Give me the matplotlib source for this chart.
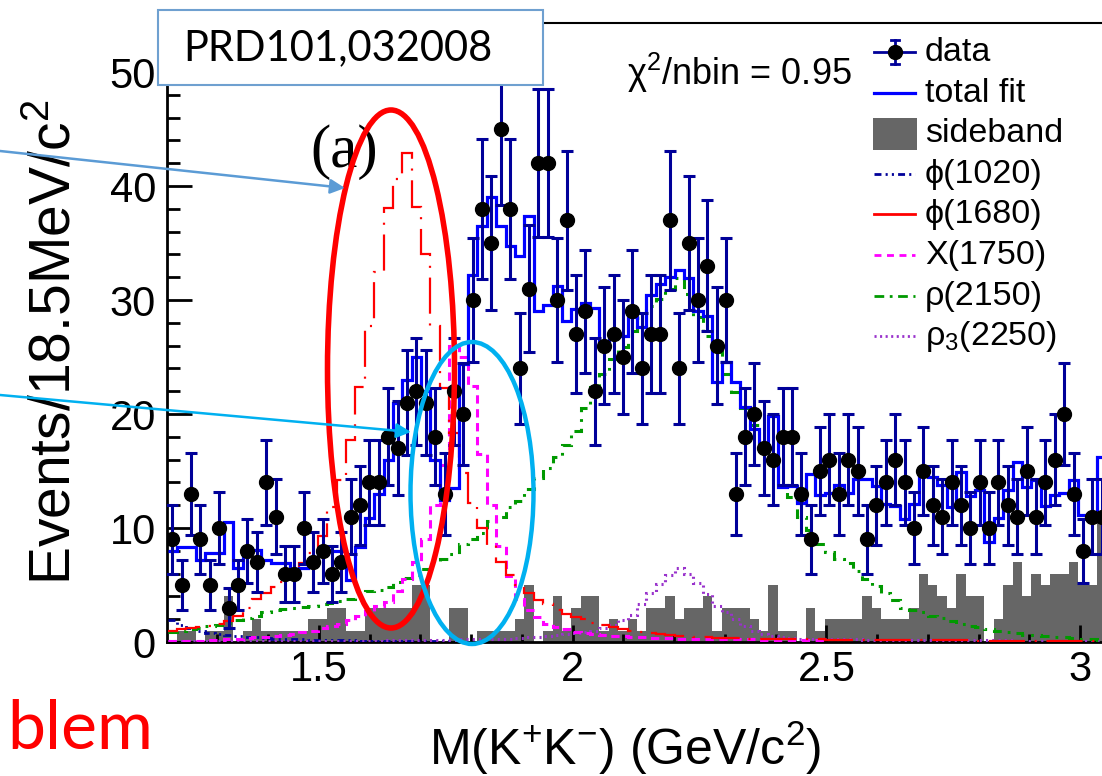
import numpy as np
import matplotlib
matplotlib.use('Agg')
import matplotlib.pyplot as plt
from matplotlib import patches, transforms as mtransforms
from matplotlib.lines import Line2D
from matplotlib.ticker import MultipleLocator, FormatStrFormatter

plt.rcParams['font.family'] = ['Liberation Sans', 'DejaVu Sans']
plt.rcParams['mathtext.fontset'] = 'custom'
plt.rcParams['mathtext.rm'] = 'Liberation Sans'
plt.rcParams['mathtext.it'] = 'Liberation Sans'
plt.rcParams['mathtext.default'] = 'regular'
plt.rcParams['lines.scale_dashes'] = False

# ---------------- data (bins of 18.5 MeV) ----------------
bin_low = 1.2017
bin_width = 0.0185

data_counts = [9, 5, 13, 9, 5, 10, 3, 5, 8, 7,
               14, 11, 6, 6, 10, 7, 8, 6, 7, 11,
               12, 14, 14, 18, 17, 21, 22, 21, 18, 13,
               22, 20, 30, 38, 35, 45, 38, 24, 31, 42,
               42, 30, 37, 27, 29, 22, 26, 27, 25, 29,
               24, 27, 27, 37, 24, 35, 30, 33, 26, 30,
               13, 18, 20, 17, 16, 18, 18, 13, 9, 15,
               16, 13, 16, 15, 9, 12, 14, 16, 14, 10,
               15, 12, 11, 14, 12, 10, 14, 10, 14, 12,
               11, 15, 11, 14, 16, 20, 13, 8, 11, 11]

total_fit = [8.0, 8.3, 8.3, 7.2, 7.8, 7.8, 10.5, 6.5, 8.0, 8.1,
             7.2, 6.9, 6.9, 6.2, 6.5, 7.1, 7.7, 8.0, 8.0, 5.4,
             8.3, 10.9, 13.0, 16.0, 21.0, 23.0, 25.0, 22.0, 16.0, 12.5,
             13.5, 24.4, 32.2, 36.5, 39.0, 36.5, 34.7, 33.9, 37.4, 29.0,
             29.6, 31.2, 28.2, 29.2, 29.7, 29.3, 26.3, 27.2, 26.8, 28.5,
             27.6, 30.4, 31.4, 32.0, 32.6, 31.9, 29.0, 28.6, 22.8, 24.6,
             22.8, 20.6, 18.7, 17.1, 19.8, 13.6, 13.7, 12.2, 14.7, 12.9,
             13.1, 13.8, 13.1, 14.3, 14.3, 13.7, 12.1, 11.9, 10.8, 12.1,
             15.2, 14.5, 13.8, 11.8, 14.9, 12.8, 13.3, 8.8, 10.9, 13.3,
             15.8, 13.6, 14.2, 11.9, 12.9, 13.1, 14.2, 11.1, 11.1, 16.2]

sideband = [0, 1, 1, 0, 1, 1, 4, 0, 1, 2,
            1, 1, 1, 1, 1, 2, 2, 3, 3, 1,
            1, 3, 3, 3, 3, 3, 5, 5, 0, 0,
            3, 3, 0, 1, 1, 1, 1, 2, 5, 0,
            1, 4, 1, 3, 4, 4, 1, 2, 1, 2,
            1, 3, 3, 4, 2, 3, 3, 4, 1, 3,
            3, 3, 2, 1, 5, 1, 1, 0, 3, 1,
            2, 2, 2, 2, 4, 3, 2, 2, 2, 3,
            6, 5, 4, 3, 6, 4, 4, 0, 2, 5,
            7, 4, 6, 5, 6, 6, 7, 5, 5, 11]

phi1020 = [1.9, 1.5, 1.2, 1.0, 0.8, 0.7, 0.6, 0.5, 0.45, 0.4,
           0.35, 0.3, 0.28, 0.25, 0.22, 0.2, 0.18, 0.16, 0.15, 0.14,
           0.12, 0.12, 0.11, 0.1, 0.1, 0.1, 0.09, 0.09, 0.08, 0.08]

phi1680 = [1.0, 1.1, 1.2, 1.3, 1.4, 1.6, 1.8, 2.3, 3.0, 3.8,
           4.3, 4.8, 5.3, 5.8, 6.9, 7.8, 9.3, 11.8, 14.2, 17.7,
           22.4, 27.7, 32.5, 38.1, 40.6, 42.9, 38.2, 34.0, 27.7, 22.3,
           18.3, 14.8, 12.2, 10.0, 8.5, 7.0, 5.9, 5.0, 4.3, 3.7,
           3.3, 2.8, 2.5, 2.2, 2.0, 1.7, 1.5, 1.3, 1.1, 1.0,
           0.85, 0.75, 0.7, 0.6, 0.55, 0.5, 0.45, 0.4, 0.38, 0.35,
           0.33, 0.3, 0.3, 0.28, 0.27, 0.26, 0.25, 0.24, 0.23, 0.22,
           0.21, 0.2, 0.2, 0.19, 0.18, 0.18, 0.17, 0.17, 0.16, 0.16,
           0.15, 0.15, 0.15, 0.14, 0.14, 0.14, 0.13, 0.13, 0.13, 0.12,
           0.12, 0.12, 0.12, 0.11, 0.11, 0.11, 0.11, 0.1, 0.1, 0.1]

x1750 = [0.1, 0.1, 0.12, 0.13, 0.15, 0.17, 0.3, 0.3, 0.35, 0.4,
         0.45, 0.5, 0.6, 0.7, 0.9, 1.0, 1.2, 1.4, 1.6, 1.9,
         2.3, 2.7, 3.2, 3.5, 4.5, 5.5, 7.0, 9.0, 12.0, 15.5,
         26.0, 25.0, 22.5, 16.5, 12.0, 8.4, 5.8, 3.8, 2.8, 2.2,
         1.6, 1.3, 1.1, 0.9, 0.8, 0.7, 0.6, 0.55, 0.5, 0.45,
         0.4, 0.38, 0.35, 0.33, 0.3, 0.3, 0.28, 0.27, 0.26, 0.25,
         0.24, 0.23, 0.22, 0.21, 0.2, 0.2, 0.19, 0.18, 0.18, 0.17]

rho2150 = [0.9, 1.0, 1.1, 1.2, 1.4, 1.5, 1.7, 1.9, 2.1, 2.3,
           2.6, 2.8, 2.9, 3.0, 3.1, 3.2, 3.3, 3.4, 3.6, 3.8,
           4.2, 4.5, 4.6, 4.8, 5.3, 5.6, 5.9, 6.4, 7.0, 7.3,
           7.7, 8.6, 9.0, 9.6, 10.6, 11.0, 11.8, 12.4, 13.4, 14.4,
           15.3, 16.2, 17.3, 18.5, 20.5, 22.4, 23.5, 24.8, 25.9, 27.3,
           28.4, 29.5, 30.1, 31.0, 31.9, 30.5, 28.5, 26.8, 25.4, 23.5,
           21.9, 20.5, 19.0, 17.1, 15.7, 13.8, 12.7, 11.0, 9.8, 8.6,
           7.9, 7.3, 6.9, 6.2, 5.5, 4.9, 4.3, 3.7, 3.0, 2.8,
           2.6, 2.3, 2.1, 1.8, 1.6, 1.4, 1.3, 1.1, 1.0, 0.9,
           0.75, 0.65, 0.6, 0.5, 0.45, 0.4, 0.35, 0.3, 0.25, 0.2]

rho3_2250 = [0.1, 0.1, 0.1, 0.1, 0.1, 0.1, 0.1, 0.1, 0.1, 0.1,
             0.1, 0.1, 0.1, 0.1, 0.1, 0.1, 0.1, 0.1, 0.1, 0.1,
             0.12, 0.12, 0.13, 0.14, 0.15, 0.16, 0.17, 0.18, 0.19, 0.2,
             0.21, 0.22, 0.23, 0.24, 0.26, 0.28, 0.3, 0.35, 0.4, 0.45,
             0.5, 0.6, 0.7, 0.8, 0.9, 1.0, 1.2, 1.5, 1.9, 2.4,
             3.3, 4.3, 5.1, 5.9, 6.5, 6.0, 5.2, 4.2, 3.2, 2.6,
             2.0, 1.4, 1.0, 0.7, 0.5, 0.4, 0.35, 0.3, 0.28, 0.26,
             0.25, 0.24, 0.23, 0.22, 0.21, 0.2, 0.2, 0.19, 0.18, 0.18,
             0.17, 0.17, 0.16, 0.16, 0.15, 0.15, 0.15, 0.14, 0.14, 0.14,
             0.13, 0.13, 0.13, 0.12, 0.12, 0.12, 0.12, 0.11, 0.11, 0.11]

legend_labels = ['data', 'total fit', 'sideband', 'ϕ(1020)', 'ϕ(1680)',
                 'X(1750)', 'ρ(2150)', r'$\rho_{3}$(2250)']
x_ticks = [1.5, 2.0, 2.5, 3.0]
y_ticks = [0, 10, 20, 30, 40, 50]

# ---------------- colours ----------------
NAVY = '#000099'
BLUE = '#0000ff'
GRAY = '#666666'
RED = '#ff0000'
MAGENTA = '#ff00ff'
GREEN = '#009900'
PURPLE = '#9932cc'

W, H = 1102, 776
fig = plt.figure(figsize=(W / 100, H / 100), dpi=100)
pix = mtransforms.Affine2D().scale(1 / W, -1 / H).translate(0, 1) + fig.transFigure

ax_left, ax_right, ax_top, ax_bottom = 167, 1102, 23, 642
ax = fig.add_axes([ax_left / W, (H - ax_bottom) / H,
                   (ax_right - ax_left) / W, (ax_bottom - ax_top) / H])

n = len(data_counts)
edges = bin_low + bin_width * np.arange(n + 1)
centers = bin_low + bin_width * (np.arange(n) + 0.5)

ax.stairs(sideband, edges, fill=True, color=GRAY, lw=0, zorder=1)
ax.stairs(phi1020, edges[:len(phi1020) + 1], baseline=None, color=NAVY, lw=2,
          linestyle=(0, (5, 3, 1.5, 3, 1.5, 3)), zorder=3)
ax.stairs(rho3_2250, edges, baseline=None, color=PURPLE, lw=2.2,
          linestyle=(0, (1.5, 3)), zorder=3)
ax.stairs(rho2150, edges, baseline=None, color=GREEN, lw=2.2,
          linestyle=(0, (7, 5, 2, 5)), zorder=3)
ax.stairs(x1750, edges[:len(x1750) + 1], baseline=None, color=MAGENTA, lw=2.2,
          linestyle=(0, (6, 4)), zorder=3)
ax.stairs(phi1680, edges, baseline=None, color=RED, lw=1.6,
          linestyle=(0, (26, 7, 1.5, 7)), zorder=3)
ax.stairs(total_fit, edges, baseline=None, color=BLUE, lw=2.3, zorder=4)

counts = np.array(data_counts, dtype=float)
ax.errorbar(centers, counts, yerr=np.sqrt(counts), fmt='o', color='black',
            ms=10, ecolor=NAVY, elinewidth=2.2, capsize=4, capthick=2.2, zorder=6)

ax.set_xlim(1.2005, 3.043)
ax.set_ylim(0, 54.3)
ax.xaxis.set_major_locator(MultipleLocator(0.5))
ax.xaxis.set_minor_locator(MultipleLocator(0.1))
ax.yaxis.set_major_locator(MultipleLocator(10))
ax.yaxis.set_minor_locator(MultipleLocator(2))
ax.set_xticks(x_ticks)
ax.set_yticks(y_ticks)
ax.xaxis.set_major_formatter(FormatStrFormatter('%g'))
ax.tick_params(axis='both', which='both', direction='in', width=2, labelsize=30)
ax.tick_params(axis='x', which='major', length=12, pad=6)
ax.tick_params(axis='x', which='minor', length=6)
ax.tick_params(axis='y', which='major', length=18, pad=8)
ax.tick_params(axis='y', which='minor', length=9)
ax.spines['right'].set_visible(False)
ax.spines['left'].set_linewidth(2)
ax.spines['bottom'].set_linewidth(2)
ax.spines['top'].set_linewidth(1.5)

# axis titles
fig.text(625, 748, r'M(K$^{+}$K$^{-}$) (GeV/c$^{2}$)', transform=pix,
         ha='center', va='center', fontsize=36)
fig.text(56, 342, r'Events/18.5MeV/c$^{2}$', transform=pix, rotation=90,
         ha='center', va='center', fontsize=41)

# chi2 text
fig.text(627, 85, r'$\chi^{2}$/nbin = 0.95', transform=pix, ha='left',
         va='baseline', fontsize=26)

# legend (manual)
leg_x0, leg_x1, leg_tx = 874, 915, 925
bases = [61 + 40.6 * i for i in range(len(legend_labels))]
for i, lab in enumerate(legend_labels):
    fig.text(leg_tx, bases[i], lab, transform=pix, ha='left', va='baseline',
             fontsize=24.5, zorder=12)
ky = [b - 9 for b in bases]
fig.add_artist(Line2D([leg_x0, leg_x1], [ky[0], ky[0]], color=NAVY, lw=2, transform=pix, zorder=12))
fig.add_artist(Line2D([895, 895], [ky[0] - 12, ky[0] + 12], color=NAVY, lw=2, transform=pix, zorder=12))
fig.add_artist(Line2D([891, 899], [ky[0] - 12, ky[0] - 12], color=NAVY, lw=2, transform=pix, zorder=12))
fig.add_artist(Line2D([891, 899], [ky[0] + 12, ky[0] + 12], color=NAVY, lw=2, transform=pix, zorder=12))
fig.add_artist(Line2D([895], [ky[0]], marker='o', ms=10, color='black', lw=0, transform=pix, zorder=13))
fig.add_artist(Line2D([leg_x0, leg_x1], [ky[1], ky[1]], color=BLUE, lw=2.3, transform=pix, zorder=12))
fig.add_artist(patches.Rectangle((873, bases[2] - 24), 44, 32, facecolor=GRAY,
                                 edgecolor='none', transform=pix, zorder=12))
key_styles = [(NAVY, (0, (5, 3, 1.5, 3, 1.5, 3))), (RED, '-'), (MAGENTA, (0, (5, 4))),
              (GREEN, (0, (7, 4, 2, 4))), (PURPLE, (0, (1.5, 2.5)))]
for j, (c, ls) in enumerate(key_styles):
    yy = ky[3 + j]
    fig.add_artist(Line2D([leg_x0, leg_x1], [yy, yy], color=c, lw=2, linestyle=ls,
                          transform=pix, zorder=12))

# "(a)" label
fig.text(344, 152, '(a)', transform=pix, ha='center', va='center',
         family='Liberation Serif', fontsize=44, zorder=12)

# annotations: ellipses, arrows, box, text
fig.add_artist(patches.Ellipse((391, 369), 127, 518, fill=False, edgecolor=RED,
                               lw=4, transform=pix, zorder=14))
fig.add_artist(patches.Ellipse((472, 493), 123, 302, fill=False, edgecolor='#00b0f0',
                               lw=3.2, transform=pix, zorder=14))
fig.add_artist(patches.FancyArrowPatch((0, 151), (345, 188), transform=pix,
                                       arrowstyle='-|>', mutation_scale=22, lw=1.8,
                                       color='#5b9bd5', shrinkA=0, shrinkB=0, zorder=15))
fig.add_artist(patches.FancyArrowPatch((0, 395), (411, 432), transform=pix,
                                       arrowstyle='-|>', mutation_scale=22, lw=1.8,
                                       color='#00b0f0', shrinkA=0, shrinkB=0, zorder=15))
fig.add_artist(patches.Rectangle((158, 10), 385, 75, facecolor='white',
                                 edgecolor='#6fa0d0', lw=1.5, transform=pix, zorder=16))
fig.text(183, 48, 'PRD101,032008', transform=pix, ha='left', va='center',
         family='Lato', fontsize=30, zorder=17)
fig.text(153, 749, 'blem', transform=pix, ha='right', va='baseline',
         family='Lato', fontsize=49, color=RED, zorder=17)

fig.savefig('out.png', dpi=100)
